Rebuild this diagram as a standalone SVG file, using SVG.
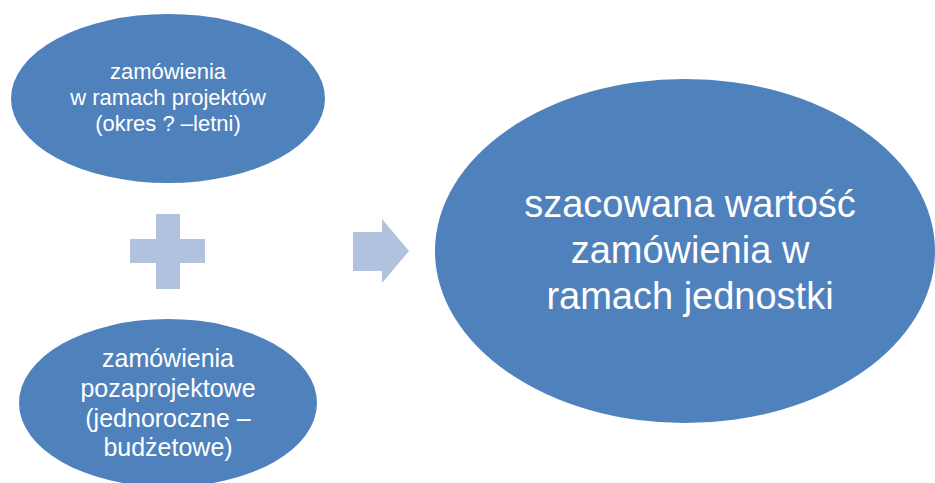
<svg xmlns="http://www.w3.org/2000/svg" width="935" height="483" viewBox="0 0 935 483">
<style>
.node{fill:#4F81BD;}
.sym{fill:#B0C2DE;}
text{fill:#FFFFFF;font-family:"Liberation Sans",Arial,sans-serif;text-anchor:middle;}
.t1{font-size:22px;}
.t2{font-size:25px;}
.t3{font-size:38px;}
</style>
<rect width="935" height="483" fill="#FFFFFF"/>
<g id="node-projekty">
<ellipse class="node" cx="168" cy="98.5" rx="157" ry="84.5"/>
<text class="t1" x="168" y="79">zamówienia</text>
<text class="t1" x="168" y="105">w ramach projektów</text>
<text class="t1" x="168" y="131">(okres ? –letni)</text>
</g>
<g id="node-plus">
<path class="sym" d="M156,214 H180 V239 H205 V263 H180 V289 H156 V263 H130 V239 H156 Z"/>
</g>
<g id="node-pozaprojektowe">
<ellipse class="node" cx="168" cy="403" rx="149" ry="84"/>
<text class="t2" x="168" y="367">zamówienia</text>
<text class="t2" x="168" y="397">pozaprojektowe</text>
<text class="t2" x="168" y="427">(jednoroczne –</text>
<text class="t2" x="168" y="456">budżetowe)</text>
</g>
<g id="connectors">
<path class="sym" d="M353,232 H382 V219 L409,251 L382,283 V271 H353 Z"/>
</g>
<g id="node-wartosc">
<ellipse class="node" cx="685" cy="251" rx="250" ry="172"/>
<text class="t3" x="690" y="217">szacowana wartość</text>
<text class="t3" x="690" y="263">zamówienia w</text>
<text class="t3" x="690" y="309">ramach jednostki</text>
</g>
</svg>
